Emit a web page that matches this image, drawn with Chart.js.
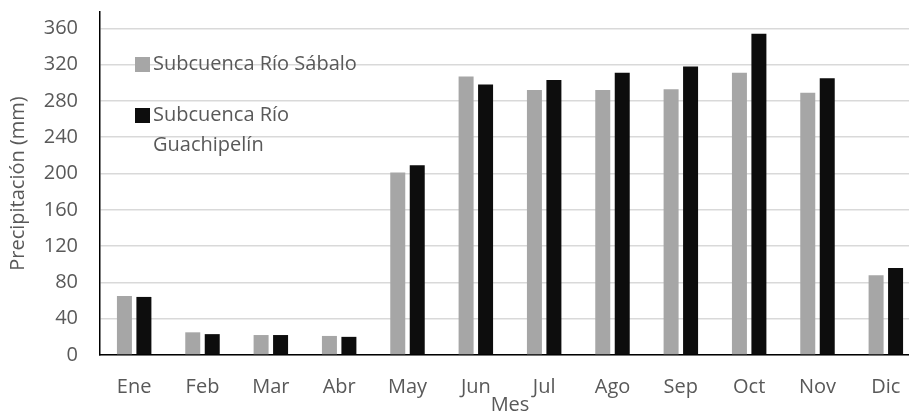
<!DOCTYPE html>
<html>
<head>
<meta charset="utf-8">
<script src="https://cdn.jsdelivr.net/npm/chart.js@4.4.1/dist/chart.umd.min.js"></script>
<style>
  html, body { margin: 0; padding: 0; background: #fff; overflow: hidden; }
  #wrap { position: absolute; left: 0; top: 0; width: 925px; height: 413px; }
</style>
</head>
<body>
<div id="wrap"><canvas id="chart"></canvas></div>
<script>
const meses = ["Ene", "Feb", "Mar", "Abr", "May", "Jun", "Jul", "Ago", "Sep", "Oct", "Nov", "Dic"];
const sabalo = [65, 25, 22, 21, 201, 307, 292, 292, 293, 311, 289, 88];
const guachipelin = [64, 23, 22, 20, 209, 298, 303, 311, 318, 354, 305, 96];
const yTicks = [0, 40, 80, 120, 160, 200, 240, 280, 320, 360];

const FONT = "'Open Sans', 'Noto Sans', sans-serif";
const TEXT = "#595959";

// legend drawn inside the plot, top-left, like the original
const insideLegend = {
  id: "insideLegend",
  afterDraw(chart) {
    const ctx = chart.ctx;
    const items = [
      { color: chart.data.datasets[0].backgroundColor, lines: ["Subcuenca Río Sábalo"], y: 64 },
      { color: chart.data.datasets[1].backgroundColor, lines: ["Subcuenca Río", "Guachipelín"], y: 115 },
    ];
    ctx.save();
    ctx.font = "20px " + FONT;
    ctx.textBaseline = "middle";
    ctx.textAlign = "left";
    items.forEach((it) => {
      ctx.fillStyle = it.color;
      ctx.fillRect(135, it.y - 7, 15, 15);
      ctx.fillStyle = TEXT;
      it.lines.forEach((l, i) => ctx.fillText(l, 153, it.y + i * 30));
    });
    ctx.restore();
  },
};

const ctx = document.getElementById("chart").getContext("2d");
const myChart = new Chart(ctx, {
  type: "bar",
  data: {
    labels: meses,
    datasets: [
      {
        label: "Subcuenca Río Sábalo",
        data: sabalo,
        backgroundColor: "#a6a6a6",
        categoryPercentage: 0.57,
        barPercentage: 0.77,
      },
      {
        label: "Subcuenca Río Guachipelín",
        data: guachipelin,
        backgroundColor: "#0d0d0d",
        categoryPercentage: 0.57,
        barPercentage: 0.77,
      },
    ],
  },
  options: {
    responsive: true,
    maintainAspectRatio: false,
    animation: false,
    layout: { padding: { top: 12, right: 5, left: 0, bottom: 0 } },
    plugins: { legend: { display: false }, tooltip: { enabled: false } },
    scales: {
      x: {
        grid: { display: false, drawTicks: false },
        border: { color: "#000", width: 1.5 },
        ticks: { color: TEXT, font: { family: FONT, size: 20 }, padding: 20 },
        title: { display: true, text: "Mes", color: TEXT, font: { family: FONT, size: 20 }, padding: { top: 0, bottom: -4 } },
        afterFit: (s) => { s.height = 58; s.paddingLeft = 0; s.paddingRight = 0; },
      },
      y: {
        min: 0,
        max: 378,
        grid: { color: "#d9d9d9", lineWidth: 1.5, drawTicks: false },
        border: { color: "#000", width: 1.5 },
        ticks: { color: TEXT, font: { family: FONT, size: 20 }, padding: 22, stepSize: 40 },
        afterBuildTicks: (s) => { s.ticks = yTicks.map((v) => ({ value: v })); },
        title: { display: true, text: "Precipitación (mm)", color: TEXT, font: { family: FONT, size: 20 }, padding: { top: 6, bottom: 0 } },
        afterFit: (s) => { s.width = 100; s.paddingTop = 0; s.paddingBottom = 0; },
      },
    },
  },
  plugins: [insideLegend],
});
</script>
</body>
</html>
